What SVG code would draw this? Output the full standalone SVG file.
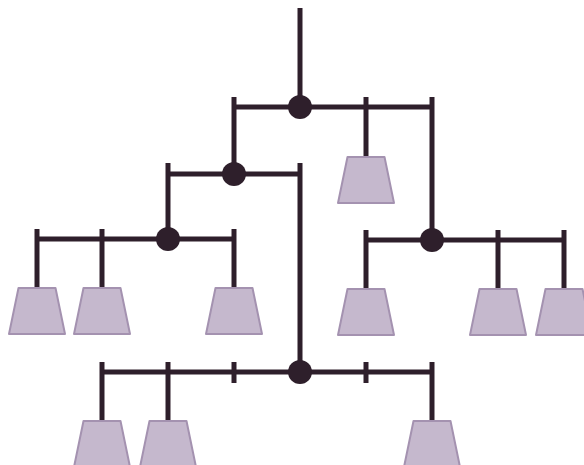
<svg xmlns="http://www.w3.org/2000/svg" width="584" height="465" viewBox="0 0 584 465">
<style>
.c{stroke:#2e1f2b;stroke-width:5;fill:none;stroke-linecap:butt}
.hub{fill:#2e1f2b}
.w{fill:#c5b8cd;stroke:#a492b0;stroke-width:2;stroke-linejoin:round}
</style>
<defs>
<path id="wt" d="M-18.5,0 L18.5,0 L28,46 L-28,46 Z"/>
</defs>
<rect width="584" height="465" fill="#ffffff"/>
<g id="connectors" class="c">
<!-- top level -->
<line x1="300" y1="8" x2="300" y2="108"/>
<line x1="234" y1="107" x2="432" y2="107"/>
<line x1="234" y1="97" x2="234" y2="175"/>
<line x1="366" y1="97" x2="366" y2="157"/>
<line x1="432" y1="97" x2="432" y2="240"/>
<!-- level 2 left -->
<line x1="168" y1="174" x2="300" y2="174"/>
<line x1="168" y1="163" x2="168" y2="240"/>
<line x1="300" y1="163" x2="300" y2="372"/>
<!-- level 3 left -->
<line x1="37" y1="239" x2="234" y2="239"/>
<line x1="37" y1="229" x2="37" y2="288"/>
<line x1="102" y1="229" x2="102" y2="288"/>
<line x1="234" y1="229" x2="234" y2="288"/>
<!-- level 3 right -->
<line x1="366" y1="240" x2="564" y2="240"/>
<line x1="366" y1="230" x2="366" y2="289"/>
<line x1="498" y1="230" x2="498" y2="289"/>
<line x1="564" y1="230" x2="564" y2="289"/>
<!-- bottom -->
<line x1="102" y1="372" x2="432" y2="372"/>
<line x1="102" y1="362" x2="102" y2="421"/>
<line x1="168" y1="362" x2="168" y2="421"/>
<line x1="234" y1="362" x2="234" y2="383"/>
<line x1="366" y1="362" x2="366" y2="383"/>
<line x1="432" y1="362" x2="432" y2="421"/>
</g>
<g id="hub-top"><circle class="hub" cx="300" cy="107" r="12"/></g>
<g id="hub-left"><circle class="hub" cx="234" cy="174" r="12"/></g>
<g id="hub-left-low"><circle class="hub" cx="168" cy="239" r="12"/></g>
<g id="hub-right"><circle class="hub" cx="432" cy="240" r="12"/></g>
<g id="hub-bottom"><circle class="hub" cx="300" cy="372" r="12"/></g>
<g id="weight-1"><use href="#wt" class="w" x="366" y="157"/></g>
<g id="weight-2"><use href="#wt" class="w" x="37" y="288"/></g>
<g id="weight-3"><use href="#wt" class="w" x="102" y="288"/></g>
<g id="weight-4"><use href="#wt" class="w" x="234" y="288"/></g>
<g id="weight-5"><use href="#wt" class="w" x="366" y="289"/></g>
<g id="weight-6"><use href="#wt" class="w" x="498" y="289"/></g>
<g id="weight-7"><use href="#wt" class="w" x="564" y="289"/></g>
<g id="weight-8"><use href="#wt" class="w" x="102" y="421"/></g>
<g id="weight-9"><use href="#wt" class="w" x="168" y="421"/></g>
<g id="weight-10"><use href="#wt" class="w" x="432" y="421"/></g>
</svg>
